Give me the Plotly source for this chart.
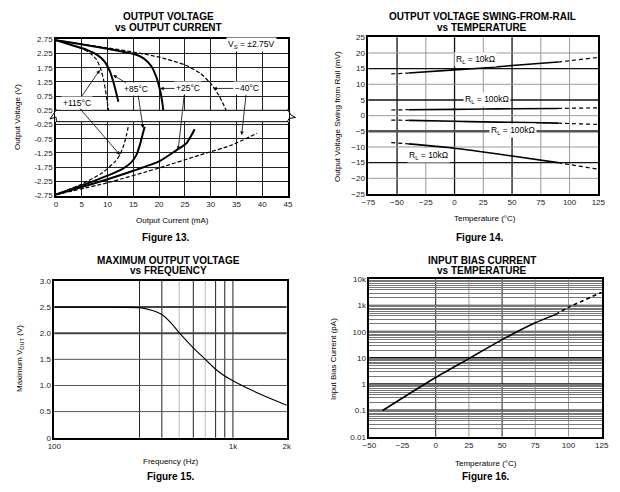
import plotly.graph_objects as go

W, H = 620, 492
FONT = "Liberation Sans, Arial, sans-serif"

# ---- Figure 13: output voltage vs output current ----
current_m40_src = [0, 5, 10, 15, 20, 25, 28, 30, 31.5, 32.5, 33]
vout_m40_src = [2.72, 2.58, 2.45, 2.3, 2.12, 1.85, 1.55, 1.2, 0.8, 0.45, 0.25]
current_25_src = [0, 4, 8, 12, 15, 17, 18.5, 19.5, 20.2, 20.6, 20.8]
vout_25_src = [2.72, 2.6, 2.48, 2.35, 2.24, 2.08, 1.8, 1.4, 0.95, 0.55, 0.25]
current_85_src = [0, 3, 6, 8, 9.5, 10.5, 11.2, 11.7, 12.1]
vout_85_src = [2.72, 2.55, 2.38, 2.2, 1.95, 1.6, 1.2, 0.85, 0.55]
current_115_src = [0, 3, 5, 6.5, 7.8, 8.6, 9.2, 9.6, 9.9, 10.2]
vout_115_src = [2.72, 2.55, 2.42, 2.28, 2.05, 1.75, 1.35, 0.95, 0.6, 0.25]

current_m40_snk = [0, 10, 20, 28, 34, 39]
vout_m40_snk = [-2.72, -2.3, -1.78, -1.32, -0.98, -0.56]
current_25_snk = [0, 5, 10, 15, 20, 23.4, 25.3, 26.3, 26.9]
vout_25_snk = [-2.72, -2.45, -2.18, -1.88, -1.55, -1.15, -0.91, -0.62, -0.42]
current_85_snk = [0, 5, 10, 13, 14.5, 15.6, 16.3, 16.8, 17.2]
vout_85_snk = [-2.72, -2.4, -2.05, -1.8, -1.6, -1.32, -0.95, -0.6, -0.33]
current_115_snk = [0, 5, 9, 11.5, 12.4, 13.1, 13.7, 14.1]
vout_115_snk = [-2.72, -2.35, -1.95, -1.55, -1.32, -1.0, -0.6, -0.25]

vout_ticks = [2.75, 2.25, 1.75, 1.25, 0.75, 0.25, -0.25, -0.75, -1.25, -1.75, -2.25, -2.75]
vout_labels = ["2.75", "2.25", "1.75", "1.25", "0.75", "0.25",
               "-0.25", "-0.75", "-1.25", "-1.75", "-2.25", "-2.75"]

# ---- Figure 14: swing from rail vs temperature ----
temp_rail = [-55, -40, 0, 25, 50, 90, 125]
rl10k_pos = [13.3, 13.6, 14.6, 15.2, 16.0, 17.1, 18.6]
rl100k_pos = [1.8, 1.9, 2.0, 2.1, 2.2, 2.3, 2.5]
rl100k_neg = [-1.4, -1.5, -1.8, -2.0, -2.1, -2.4, -2.8]
rl10k_neg = [-8.6, -9.0, -10.4, -11.6, -12.9, -15.0, -17.1]

# ---- Figure 15: max output voltage vs frequency ----
freq = [100, 200, 300, 350, 400, 450, 500, 600, 700, 800, 900, 1000, 1200, 1500, 2000]
vout_max = [2.5, 2.5, 2.49, 2.44, 2.36, 2.2, 2.01, 1.72, 1.5, 1.31, 1.18, 1.09, 0.95, 0.8, 0.62]
freq_ticks = [100, 1000, 2000]
freq_labels = ["100", "1k", "2k"]
vmax_ticks = [0, 0.5, 1.0, 1.5, 2.0, 2.5, 3.0]
vmax_labels = ["0", "0.5", "1.0", "1.5", "2.0", "2.5", "3.0"]
freq_grid_dark = [300, 400, 600, 800, 900, 1000]
freq_grid_light = [500, 700]

# ---- Figure 16: input bias current vs temperature ----
temp_bias = [-40, -25, 0, 25, 50, 75, 90, 100, 125]
ibias = [0.1, 0.3, 1.8, 9.5, 50, 220, 450, 850, 3200]
ibias_decades = [0.01, 0.1, 1, 10, 100, 1000, 10000]
ibias_labels = ["0.01", "0.1", "1", "10", "100", "1k", "10k"]


def px(x):
    return x / W


def py(y):
    return 1 - y / H


fig = go.Figure()


def line(x, y, xa, ya, dash="solid", width=1.8, smooth=0.6):
    fig.add_trace(go.Scatter(x=x, y=y, xaxis=xa, yaxis=ya, mode="lines",
                             line=dict(color="black", width=width, dash=dash,
                                       shape="spline", smoothing=smooth),
                             showlegend=False, hoverinfo="skip"))


# fig 13 curves
dash13 = "4px,2px"
line(current_m40_src, vout_m40_src, "x", "y", dash13, 1.2)
line(current_25_src, vout_25_src, "x", "y", "solid", 2)
line(current_85_src, vout_85_src, "x", "y", "solid", 2)
line(current_115_src, vout_115_src, "x", "y", dash13, 1.2)
line(current_m40_snk, vout_m40_snk, "x", "y", dash13, 1.2)
line(current_25_snk, vout_25_snk, "x", "y", "solid", 2)
line(current_85_snk, vout_85_snk, "x", "y", "solid", 2)
line(current_115_snk, vout_115_snk, "x", "y", dash13, 1.2)

# fig 14 curves (dashed outside -40..90)
for vals in [rl10k_pos, rl100k_pos, rl100k_neg, rl10k_neg]:
    line(temp_rail[:2], vals[:2], "x2", "y2", "4px,3px", 1.2)
    line(temp_rail[1:6], vals[1:6], "x2", "y2", "solid", 1.6)
    line(temp_rail[5:], vals[5:], "x2", "y2", "4px,3px", 1.2)

# fig 15
line(freq, vout_max, "x3", "y3", "solid", 1.1, 0.4)

# fig 16
line(temp_bias[:7], ibias[:7], "x4", "y4", "solid", 1.6)
line(temp_bias[6:], ibias[6:], "x4", "y4", "4px,3px", 1.6)

tickfont = dict(family=FONT, size=8, color="#222")
frame = dict(showline=True, mirror=True, linecolor="black", linewidth=1.5, automargin=False,
             ticks="", zeroline=False, tickfont=tickfont, fixedrange=True)

shapes = []
annotations = []


def text(x, y, s, size=8, bold=False, angle=0):
    if bold:
        s = "<b>" + s + "</b>"
    annotations.append(dict(x=px(x), y=py(y), xref="paper", yref="paper", text=s,
                            showarrow=False, textangle=angle,
                            font=dict(family=FONT, size=size, color="black"),
                            xanchor="center", yanchor="middle"))


def vline(xref, yref, x, color, width=1):
    shapes.append(dict(type="line", xref=xref, yref=yref + " domain", x0=x, x1=x, y0=0, y1=1,
                       line=dict(color=color, width=width), layer="below"))


def hline(xref, yref, y, color, width=1):
    shapes.append(dict(type="line", xref=xref + " domain", yref=yref, x0=0, x1=1, y0=y, y1=y,
                       line=dict(color=color, width=width), layer="below"))


# titles and captions
for (cx, y1, y2, t1, t2) in [
    (168, 17, 27, "OUTPUT VOLTAGE", "vs OUTPUT CURRENT"),
    (482, 17, 27, "OUTPUT VOLTAGE SWING-FROM-RAIL", "vs TEMPERATURE"),
    (168, 260, 270, "MAXIMUM OUTPUT VOLTAGE", "vs FREQUENCY"),
    (482, 260, 270, "INPUT BIAS CURRENT", "vs TEMPERATURE"),
]:
    text(cx, y1, t1, 10, True)
    text(cx, y2, t2, 10, True)

text(165, 237, "Figure 13.", 10, True)
text(479, 237, "Figure 14.", 10, True)
text(170, 476, "Figure 15.", 10, True)
text(485, 476, "Figure 16.", 10, True)

text(172, 220, "Output Current (mA)")
text(17, 117, "Output Voltage (V)", angle=-90)
text(485, 219, "Temperature (°C)")
text(337, 117, "Output Voltage Swing from Rail (mV)", angle=-90)
text(170, 461, "Frequency (Hz)")
text(20, 359, "Maximum V<sub>OUT</sub> (V)", angle=-90)
text(486, 463, "Temperature (°C)")
text(333, 359, "Input Bias Current (pA)", angle=-90)

# fig 13 break band
shapes.append(dict(type="rect", xref="paper", yref="y", x0=px(55), x1=px(289), y0=-0.15, y1=0.25,
                   fillcolor="white", line=dict(width=0), layer="above"))
for yy in [0.25, -0.15]:
    shapes.append(dict(type="line", xref="x", yref="y", x0=0, x1=45, y0=yy, y1=yy,
                       line=dict(color="black", width=1), layer="above"))
shapes.append(dict(type="path", xref="paper", yref="paper",
                   path="M %f,%f L %f,%f L %f,%f L %f,%f" % (
                       px(56.5), py(109.5), px(50), py(119), px(56), py(117), px(56.5), py(121.5)),
                   line=dict(color="black", width=1), layer="above"))
shapes.append(dict(type="path", xref="paper", yref="paper",
                   path="M %f,%f L %f,%f L %f,%f L %f,%f L %f,%f" % (
                       px(287.5), py(109.5), px(291), py(115), px(295.5), py(117.5),
                       px(289), py(118.5), px(287.5), py(121.5)),
                   line=dict(color="black", width=1), layer="above"))

# fig 13 labels with arrows
arrow = dict(showarrow=True, arrowhead=2, arrowsize=0.9, arrowwidth=0.8, arrowcolor="black",
             xref="x", yref="y", axref="x", ayref="y")
lab = dict(family=FONT, size=8.5, color="black")
for (tx, ty, t, h1, h2, tail2) in [
    (4.1, 0.51, "+115°C", (8.5, 1.67), (12.4, -1.32), (4.4, 0.36)),
    (15.6, 0.99, "+85°C", (11.1, 1.49), (16.9, -0.38), (15.9, 0.82)),
    (25.6, 1.02, "+25°C", (20.2, 1.02), (23.7, -1.15), (24.9, 0.85)),
    (37.0, 1.02, "\u221240°C", (30.5, 1.02), (36.0, -0.62), (36.9, 0.85)),
]:
    annotations.append(dict(arrow, x=h1[0], y=h1[1], ax=tx, ay=ty, text=t, font=lab,
                            bgcolor="white"))
    annotations.append(dict(arrow, x=h2[0], y=h2[1], ax=tail2[0], ay=tail2[1], text=""))
annotations.append(dict(x=37.9, y=2.55, xref="x", yref="y", showarrow=False,
                        text="V<sub>S</sub> = ±2.75V", font=lab, bgcolor="white"))

# fig 14 labels
for (lx, ly, t) in [(17.8, 17.8, "R<sub>L</sub> = 10kΩ"), (27.9, 5, "R<sub>L</sub> = 100kΩ"),
                    (51, -4.7, "R<sub>L</sub> = 100kΩ"), (-22.8, -12.6, "R<sub>L</sub> = 10kΩ")]:
    annotations.append(dict(x=lx, y=ly, xref="x2", yref="y2", showarrow=False, text=t,
                            font=lab, bgcolor="white"))

# fig 14 grid
for v in [-25, 25, 75, 100]:
    vline("x2", "y2", v, "#999")
for v in [-50, 0, 50]:
    vline("x2", "y2", v, "#111", 1.3)
for v in [20, 10, 0, -10, -20]:
    hline("x2", "y2", v, "#999")
for v in [15, 5, -15]:
    hline("x2", "y2", v, "#111", 1.3)
hline("x2", "y2", -5, "#555", 2.5)

# fig 15 grid
for v in freq_grid_dark:
    vline("x3", "y3", v, "#222", 1)
for v in freq_grid_light:
    vline("x3", "y3", v, "#bbb", 1)
for v in [0.5, 1.0, 1.5]:
    hline("x3", "y3", v, "#555", 1)
for v in [2.0, 2.5]:
    hline("x3", "y3", v, "#444", 2)

# fig 16 grid
for v in [0, 50]:
    vline("x4", "y4", v, "#222", 1)
for v in [25, 75, 100]:
    vline("x4", "y4", v, "#999", 1)
for v in ibias_decades[1:-1]:
    hline("x4", "y4", v, "#111", 1.8)

fig.update_layout(
    width=W, height=H, margin=dict(l=0, r=0, t=0, b=0),
    paper_bgcolor="white", plot_bgcolor="white",
    font=dict(family=FONT, color="black"),
    xaxis=dict(frame, domain=[px(56), px(288)], range=[0, 45], dtick=5,
               showgrid=True, gridcolor="#222", gridwidth=1),
    yaxis=dict(frame, domain=[py(195.5), py(39.3)], range=[-2.75, 2.75],
               tickvals=vout_ticks, ticktext=vout_labels,
               showgrid=True, gridcolor="#222", gridwidth=1),
    xaxis2=dict(frame, anchor="y2", domain=[px(368.3), px(598.3)], range=[-75, 125], dtick=25,
                showgrid=False),
    yaxis2=dict(frame, anchor="x2", domain=[py(194), py(37.3)], range=[-25, 25], dtick=5,
                showgrid=False),
    xaxis3=dict(frame, anchor="y3", type="log", domain=[px(54.3), px(286.7)],
                range=[2, 3.30103], tickvals=freq_ticks, ticktext=freq_labels, showgrid=False),
    yaxis3=dict(frame, anchor="x3", domain=[py(437.7), py(281)], range=[0, 3],
                tickvals=vmax_ticks, ticktext=vmax_labels, showgrid=False),
    xaxis4=dict(frame, anchor="y4", domain=[px(369.3), px(601.7)], range=[-50, 125], dtick=25,
                showgrid=False),
    yaxis4=dict(frame, anchor="x4", type="log", domain=[py(436.7), py(279.3)], range=[-2, 4],
                tickvals=ibias_decades, ticktext=ibias_labels,
                showgrid=True, gridcolor="#777", gridwidth=0.8,
                minor=dict(dtick="D1", showgrid=True, gridcolor="#777", gridwidth=0.8)),
    shapes=shapes,
    annotations=annotations,
)

fig.write_html("out.html", config={"displayModeBar": False},
               post_script="document.body.style.margin='0';document.body.style.padding='0';")
